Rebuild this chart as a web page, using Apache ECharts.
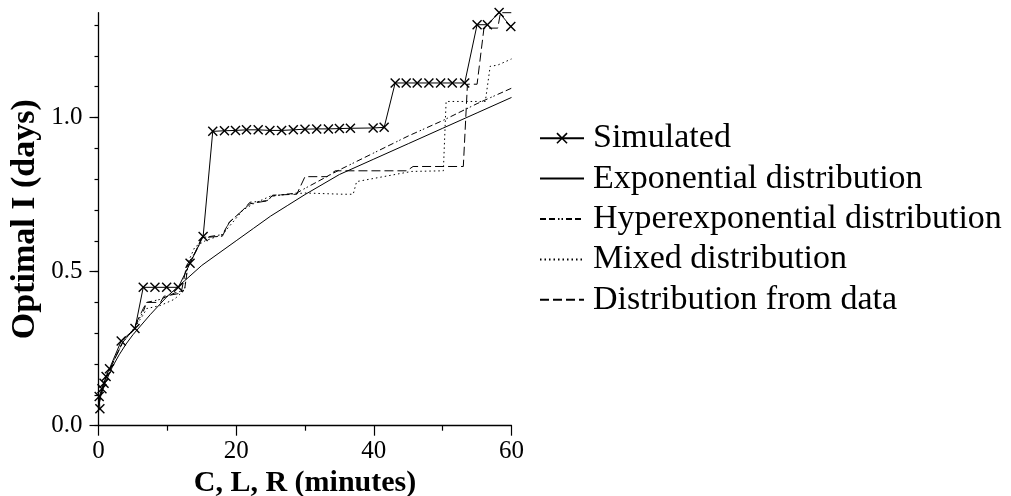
<!DOCTYPE html>
<html>
<head>
<meta charset="utf-8">
<script src="https://cdn.jsdelivr.net/npm/echarts@6/dist/echarts.min.js"></script>
<style>
html,body{margin:0;padding:0;background:#fff;}
#chart{width:1011px;height:496px;}
</style>
</head>
<body>
<div id="chart"></div>
<script>
// ---- Data ----
const seriesNames = ["Simulated", "Exponential distribution", "Hyperexponential distribution", "Mixed distribution", "Distribution from data"];

const simulated = [[0.2,0.055],[0.1,0.095],[0.5,0.12],[0.8,0.138],[1.1,0.16],[1.6,0.185],[3.3,0.275],[5.3,0.315],[6.5,0.449],[8.2,0.449],[9.9,0.449],[11.6,0.449],[13.3,0.527],[15.2,0.614],[16.6,0.955],[18.3,0.957],[19.9,0.958],[21.5,0.96],[23.2,0.96],[24.9,0.958],[26.6,0.958],[28.3,0.96],[30.0,0.962],[31.7,0.963],[33.4,0.963],[35.0,0.964],[36.6,0.965],[39.9,0.966],[41.5,0.968],[43.1,1.112],[44.7,1.112],[46.3,1.112],[48.0,1.112],[49.7,1.112],[51.4,1.112],[53.2,1.112],[55.0,1.301],[56.5,1.301],[58.2,1.341],[59.9,1.295]];

const exponential = [[0,0.07],[0.5,0.11],[1,0.14],[2,0.19],[3,0.23],[4,0.265],[5,0.295],[7.5,0.36],[10,0.42],[12.5,0.47],[15,0.52],[17.5,0.56],[20,0.60],[22.5,0.64],[25,0.68],[27.5,0.715],[30,0.75],[35,0.815],[40,0.865],[45,0.915],[50,0.965],[55,1.015],[60,1.065]];

const hyperexponential = [[0,0.07],[0.5,0.12],[1,0.15],[2,0.2],[3.5,0.27],[5,0.31],[6.5,0.37],[7,0.40],[9,0.41],[11,0.43],[12.5,0.44],[13,0.52],[14.5,0.58],[15,0.61],[18,0.62],[19,0.66],[21,0.70],[22,0.725],[24.5,0.73],[25.2,0.745],[28.8,0.755],[30,0.77],[35,0.83],[40,0.885],[45,0.94],[50,0.99],[55,1.045],[60,1.095]];

const mixed = [[0,0.07],[0.5,0.12],[1,0.16],[2,0.2],[3.5,0.27],[5,0.31],[6.5,0.36],[7,0.38],[9,0.39],[11,0.41],[12.5,0.44],[13,0.53],[14,0.58],[15.5,0.60],[18,0.62],[19.5,0.66],[21,0.70],[22.5,0.72],[25,0.745],[27,0.75],[30,0.755],[35.5,0.751],[37,0.751],[37.5,0.792],[45.5,0.825],[50.1,0.827],[50.5,1.052],[56.2,1.052],[56.9,1.166],[58,1.17],[60,1.19]];

const fromData = [[0,0.06],[0.5,0.11],[1,0.15],[2,0.2],[3.5,0.27],[5,0.31],[6.5,0.38],[7,0.40],[9,0.40],[9.5,0.42],[12,0.43],[12.8,0.52],[14,0.56],[15,0.61],[18,0.615],[19,0.66],[21,0.70],[22,0.72],[24.6,0.73],[25.3,0.748],[28.8,0.751],[30,0.808],[33.2,0.808],[34.4,0.827],[44.8,0.827],[45.7,0.841],[53,0.841],[53.6,1.108],[55,1.108],[56,1.29],[58,1.29],[58.4,1.34],[60,1.34]];

const xTickValues = [0, 20, 40, 60];
const yMajorTicks = [0, 0.5, 1.0];
const yMinorTicks = [0, 0.1, 0.2, 0.3, 0.4, 0.5, 0.6, 0.7, 0.8, 0.9, 1.0, 1.1, 1.2, 1.3];

// ---- Chart ----
const FONT = "Liberation Serif";
const crossPath = 'path://M0,1L1,0L5,4L9,0L10,1L6,5L10,9L9,10L5,6L1,10L0,9L4,5Z';

const chart = echarts.init(document.getElementById('chart'), null, {renderer: 'canvas'});

function lineSeries(name, data, type, extra) {
  return Object.assign({
    name: name,
    type: 'line',
    data: data,
    showSymbol: false,
    symbol: 'none',
    clip: false,
    animation: false,
    lineStyle: {color: '#000', width: 1, type: type},
    itemStyle: {color: '#000'}
  }, extra || {});
}

const legendData = seriesNames.map((n, i) => i === 0 ? {name: n} : {name: n, itemStyle: {opacity: 0}});

const option = {
  animation: false,
  backgroundColor: '#fff',
  grid: {left: 98.5, right: 499.5, top: 12.7, bottom: 70.3, containLabel: false, outerBoundsMode: 'none'},
  legend: {
    orient: 'vertical',
    left: 534,
    top: 113,
    itemWidth: 44,
    itemHeight: 14,
    itemGap: 0,
    selectedMode: false,
    data: legendData,
    textStyle: {fontFamily: FONT, fontSize: 34, color: '#000', lineHeight: 40.4, padding: [0, 0, 0, 4]}
  },
  xAxis: {
    type: 'value',
    min: 0, max: 60, interval: 20,
    name: 'C, L, R (minutes)',
    nameLocation: 'middle',
    nameGap: 35,
    nameTextStyle: {fontFamily: FONT, fontSize: 30, fontWeight: 'bold', color: '#000'},
    axisLine: {show: true, onZero: false, lineStyle: {color: '#000', width: 1.3}},
    axisTick: {show: true, inside: false, length: 10, lineStyle: {color: '#000', width: 1.2}},
    minorTick: {show: true, splitNumber: 2, length: 5, lineStyle: {color: '#000', width: 1.2}},
    axisLabel: {fontFamily: FONT, fontSize: 25, color: '#000', margin: 13},
    splitLine: {show: false},
    minorSplitLine: {show: false}
  },
  yAxis: [
    {
      type: 'value',
      min: 0, max: 1.34,
      name: 'Optimal I (days)',
      nameLocation: 'middle',
      nameGap: 56,
      nameTextStyle: {fontFamily: FONT, fontSize: 34, fontWeight: 'bold', color: '#000'},
      axisLine: {show: true, onZero: false, lineStyle: {color: '#000', width: 1.3}},
      axisTick: {show: true, inside: false, length: 9, customValues: yMajorTicks, lineStyle: {color: '#000', width: 1.2}},
      axisLabel: {fontFamily: FONT, fontSize: 25, color: '#000', margin: 16, customValues: yMajorTicks, formatter: v => v.toFixed(1)},
      splitLine: {show: false}
    },
    {
      type: 'value',
      min: 0, max: 1.34,
      position: 'left',
      offset: 0,
      axisLine: {show: false},
      axisTick: {show: true, inside: false, length: 4, customValues: yMinorTicks, lineStyle: {color: '#000', width: 1.2}},
      axisLabel: {show: false},
      splitLine: {show: false}
    }
  ],
  series: [
    lineSeries(seriesNames[0], simulated, 'solid', {
      showSymbol: true,
      symbol: crossPath,
      symbolSize: 10,
      itemStyle: {color: '#000'}
    }),
    lineSeries(seriesNames[1], exponential, 'solid'),
    lineSeries(seriesNames[2], hyperexponential, [6, 3, 6, 3, 1.5, 2, 1.5, 3]),
    lineSeries(seriesNames[3], mixed, [1.5, 3]),
    lineSeries(seriesNames[4], fromData, [9, 4])
  ]
};

chart.setOption(option);
</script>
</body>
</html>
